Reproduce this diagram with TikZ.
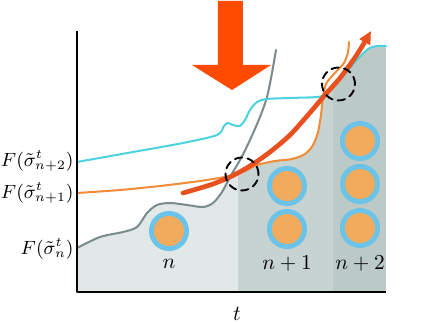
\documentclass[tikz,border=0pt]{standalone}
\usepackage{amsmath,amssymb}
\usetikzlibrary{arrows.meta,calc}

\definecolor{bandlight}{HTML}{E1E8E7}
\definecolor{bandmid}{HTML}{C6D3D1}
\definecolor{banddark}{HTML}{BBCAC7}
\definecolor{curvegray}{HTML}{7B8B8B}
\definecolor{curveorange}{HTML}{F28C38}
\definecolor{curvecyan}{HTML}{4CD3DF}
\definecolor{pathred}{HTML}{E8501F}
\definecolor{bigarrow}{HTML}{FF4B00}
\definecolor{ringblue}{HTML}{6CC3EA}
\definecolor{coreorange}{HTML}{F2AB5D}

\begin{document}
\begin{tikzpicture}[x=0.0165cm, y=-0.0165cm, line cap=round, line join=round,
  >={Triangle[length=6pt, width=5.5pt]},
  font=\fontsize{9.6}{11}\selectfont,
  particle/.style={circle, draw=ringblue, fill=coreorange, line width=2.3pt, minimum size=0.58cm, inner sep=0pt},
  fcurve/.style={line width=0.95pt},
  levellabel/.style={anchor=east, inner sep=0pt, font=\fontsize{9}{10}\selectfont},
  dashcirc/.style={line width=0.9pt, dash pattern=on 3.5pt off 2.5pt}]
  \useasboundingbox (0,0) rectangle (436,323);

  % Shaded bands under the lower envelope
  \begin{scope}
    \clip plot[smooth] coordinates {(77,248) (100,237) (123,232) (137,227) (147,213) (157,205) (170,203) (187,205) (203,207) (213,203) (222,192) (230,177) (245,171) (257,165) (275,161) (292,159) (305,154) (313,145) (318,132) (321,115) (324,95) (340,80) (355,62) (368,49) (377,46) (386,46)}
      -- (386,292) -- (77,292) -- cycle;
    \fill[bandlight] (77,0) rectangle (238,292);
    \fill[bandmid] (238,0) rectangle (333,292);
    \fill[banddark] (333,0) rectangle (386,292);
  \end{scope}

  % Curves F
  \draw[fcurve, curvegray] plot[smooth] coordinates {(77,248) (100,237) (123,232) (137,227) (147,213) (157,205) (170,203) (187,205) (203,207) (213,203) (222,192) (230,177) (240,160) (250,140) (260,117) (267,97) (272,73) (276,50)};
  \draw[fcurve, curveorange] plot[smooth] coordinates {(77,193) (120,190) (160,186) (200,181) (230,176) (245,171) (257,165) (275,161) (292,159) (305,154) (313,145) (318,132) (321,115) (323,97) (326,84) (334,74) (344,63) (348,52) (349,42)};
  \draw[fcurve, curvecyan] plot[smooth] coordinates {(77,162) (133,152) (183,143) (217,135) (224,126) (228,123) (233,125) (240,126) (245,120) (250,110) (257,102) (267,99) (290,98) (317,97) (325,94) (340,80) (355,62) (368,49) (377,46) (386,46)};

  % Particles
  \node[particle] (pn) at (169,231) {};
  \node[particle] (pa1) at (287,186) {};
  \node[particle] (pa2) at (287,229) {};
  \node[particle] (pb1) at (360,141) {};
  \node[particle] (pb2) at (360,184) {};
  \node[particle] (pb3) at (360,228) {};

  % Labels of the bands
  \node (ln) at (169,264) {$n$};
  \node (la) at (287,264) {$n+1$};
  \node (lb) at (360,264) {$n+2$};

  % Path along the envelope
  \draw[->, pathred, line width=2.2pt] plot[smooth] coordinates {(183,193) (210,185) (230,177) (250,166) (270,152) (290,135) (308,115) (325,95) (340,78) (354,59) (363,45) (371,31)};

  % Crossings
  \coordinate (X1) at (242,174);
  \coordinate (X2) at (338.5,84);
  \draw[dashcirc] (X1) circle[radius=0.272cm];
  \draw[dashcirc] (X2) circle[radius=0.272cm];

  % Big arrow
  \fill[bigarrow] (218,1) -- (243,1) -- (243,65) -- (271,65) -- (232,90) -- (192,65) -- (218,65) -- cycle;

  % Axes
  \draw[line width=0.8pt, line cap=butt] (77,31) -- (77,292) -- (386,292);
  \node (t) at (237,314) {$t$};

  % Level labels
  \node[levellabel] (F2) at (74,161) {$F(\tilde{\sigma}^t_{n+2})$};
  \node[levellabel] (F1) at (74,193) {$F(\tilde{\sigma}^t_{n+1})$};
  \node[levellabel] (F0) at (74,249) {$F(\tilde{\sigma}^t_{n})$};
\end{tikzpicture}
\end{document}
